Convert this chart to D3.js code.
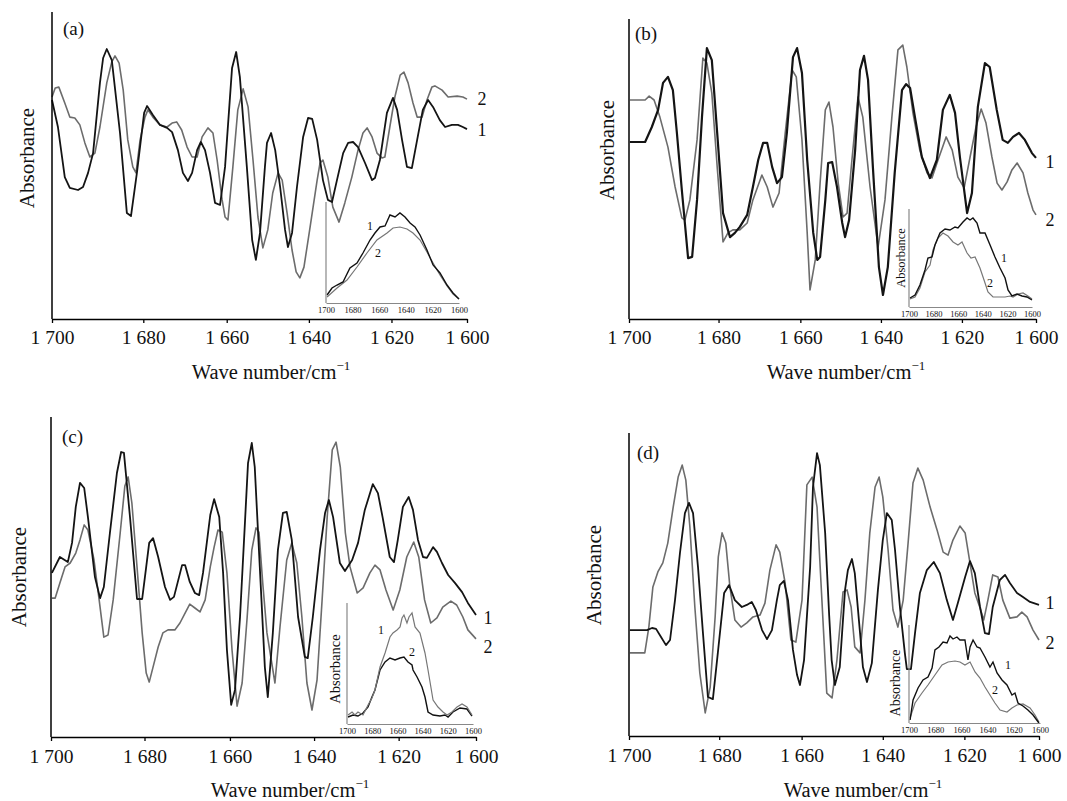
<!DOCTYPE html>
<html><head><meta charset="utf-8">
<script src="https://cdn.jsdelivr.net/npm/d3@7"></script>
<style>
body{margin:0;background:#fff}
svg{display:block}
text{font-family:"Liberation Serif","Times New Roman",serif;fill:#111}
</style>
</head><body>
<svg id="chart" width="1067" height="801"></svg>
<script>
// ---------- data ----------
const xTickValues = [1700,1680,1660,1640,1620,1600];
const xTickLabels = ["1 700","1 680","1 660","1 640","1 620","1 600"];
const insetTickLabels = ["1700","1680","1660","1640","1620","1600"];
const seriesNames = ["1","2"];
const panelLetters = ["(a)","(b)","(c)","(d)"];
const yLabel = "Absorbance";
const xLabel = "Wave number/cm";

// panel (a)
const a1 = [[1700,73],[1698.7,64],[1697.2,47.3],[1696.1,43.7],[1694.3,43],[1693.2,44],[1692.1,48.7],[1691,55.3],[1689.5,78.7],[1688.8,87],[1688,90],[1686.9,86.3],[1685.1,62],[1683.6,35.3],[1682.7,34.3],[1681.4,48.7],[1679.8,68.7],[1679.1,71],[1677.7,68],[1676,64.7],[1674.3,63.7],[1673.1,62.3],[1671.7,56.3],[1670.5,48.7],[1669.3,46],[1668.3,48.7],[1667.1,56.3],[1666.2,59],[1665.2,56.3],[1664,48.7],[1662.8,38.7],[1661.6,38],[1660.4,50.7],[1658.7,83.7],[1657.7,89],[1656.8,80.7],[1655.1,50.7],[1653.8,26.3],[1652.9,19.7],[1651.9,28.7],[1650.7,50.7],[1650.2,58.7],[1649.2,62],[1648.2,56.3],[1647,44],[1645.8,29.7],[1645.1,24],[1644.1,28.7],[1642.9,44],[1641.4,60.7],[1640.2,67],[1639.2,66.7],[1638,59.7],[1636.6,46.3],[1635.4,39.7],[1634.4,39],[1633.2,46.3],[1631.7,55.3],[1630.5,58.7],[1629.3,59],[1628.1,57.3],[1626.4,52],[1624.7,46.3],[1624,47],[1622.8,53],[1621.1,68.7],[1619.6,73.7],[1618.5,69.7],[1617.2,59.7],[1615.9,50.7],[1614.6,50.3],[1613.2,59.7],[1611.7,69.7],[1610.3,73],[1609,70.7],[1607.2,66.3],[1605.8,64],[1604,64.7],[1602.4,64.7],[1601.1,64],[1600,63.3]];
const a2 = [[1700,74],[1699.3,77],[1698.5,77.3],[1697.2,72],[1696.1,67.3],[1695,67],[1693.9,64.7],[1692.8,58.7],[1691.7,54],[1690.6,55.3],[1689.5,64],[1688,78.7],[1686.9,85.7],[1686.2,87.7],[1685.3,85.3],[1684.4,76.3],[1683.4,59.7],[1682.3,50.7],[1681.6,48.7],[1680.7,59.7],[1679.6,67.3],[1678.9,69.7],[1677.7,67.3],[1676,64.7],[1674.3,64],[1673.1,65.3],[1672,65.7],[1670.8,63],[1669.5,57.3],[1668.3,54],[1667.1,54],[1665.9,60.7],[1664.5,63.7],[1663.3,62],[1662.3,53],[1661.1,39.7],[1660.4,34],[1659.7,33],[1658.5,50.7],[1657.3,69.7],[1656,76.7],[1654.8,70.7],[1653.6,53],[1652.4,34],[1651.2,23.7],[1650,29.7],[1648.8,42],[1647.5,48.7],[1646.5,46.3],[1645.3,35.3],[1644.1,23],[1643.1,15.7],[1642.2,13.7],[1641.2,17.3],[1639.7,30.7],[1638,46.3],[1637.3,52],[1636.6,53],[1635.4,47.3],[1634.2,37.3],[1632.7,32.3],[1631.3,38.7],[1629.6,47.3],[1628.1,56.3],[1626.9,62],[1625.9,63.7],[1624.7,60.7],[1623.5,55.3],[1622.3,53.7],[1621.6,54],[1620.4,64],[1619.1,74],[1617.7,81.3],[1616.7,82.3],[1615.6,78.7],[1614.3,72],[1613.2,67.3],[1611.9,67.3],[1610.6,73],[1609.3,77.3],[1608.5,77.7],[1606.6,76.3],[1605,74],[1602.6,74.3],[1601.1,74],[1600,73.3]];
const aIn1 = [[1699.2,8],[1695.5,15],[1691.7,18],[1687.2,21],[1682,35],[1676.7,40],[1672.2,50],[1666.9,63],[1663.2,70],[1659.4,76],[1655.6,77],[1651.9,88],[1648.1,86],[1644.4,90],[1640.6,86],[1636.8,80],[1633.1,76],[1629.3,68],[1624.1,53],[1619.5,38],[1614.3,30],[1609,18],[1604.5,10],[1600,4]];
const aIn2 = [[1699.2,6],[1691.7,15],[1684.2,23],[1676.7,36],[1669.2,50],[1661.7,63],[1654.1,70],[1649.6,75],[1644.4,76],[1639.1,74],[1634.6,70],[1629.3,63],[1624.1,51],[1619.5,40],[1614.3,28],[1609,17],[1604.5,9],[1600,4]];

// panel (b)
const b1 = [[1699.8,59],[1696.4,59],[1694.9,64],[1693.5,69.7],[1692.4,78.7],[1691.3,80.7],[1690.2,76.3],[1689.3,62],[1688.2,43],[1686.8,20.3],[1685.9,20.7],[1684.8,39.7],[1683.7,67.3],[1682.6,90.3],[1681.5,86.3],[1680.3,62],[1678.9,35.3],[1677.2,27.3],[1676,28.7],[1674.8,30.7],[1673,34.7],[1671.6,44],[1670.3,53],[1669.1,58.7],[1668.1,58.7],[1666.9,50.7],[1665.7,45.3],[1664.5,47.3],[1663.3,62],[1661.8,87.3],[1660.8,90.3],[1659.6,82],[1658.3,53],[1656.8,28.7],[1655.8,19.7],[1655.1,20.7],[1653.8,39.7],[1653.1,52],[1652.1,52.3],[1650.9,44],[1649.6,32],[1648.9,27.3],[1647.9,33],[1646.4,56.3],[1645.2,83],[1644.2,87.7],[1643.2,79.7],[1642,50.7],[1640.5,17.3],[1639.5,8],[1638.3,17.3],[1636.6,48.7],[1634.8,76.3],[1633.8,78.3],[1632.8,77],[1631.6,67.3],[1629.9,54],[1627.9,47],[1626.2,53],[1624.7,69.7],[1623,74.7],[1621.7,68.7],[1620.5,54],[1618.6,35.3],[1617.3,42],[1615.7,70.7],[1613.8,85.3],[1612.5,84],[1610.6,69.7],[1609,59.7],[1607.6,58.7],[1606.2,60.7],[1604.6,62],[1603,59.7],[1601.1,55.3],[1600,53.7]];
const b2 = [[1699.8,73],[1696.4,73],[1695.5,74.3],[1694.4,73],[1693.1,67.3],[1691.3,57.3],[1689.7,44],[1688.2,33.7],[1687.5,33],[1686.4,39.7],[1684.8,59.7],[1683.5,87],[1682.6,85.3],[1681.5,75.3],[1680.3,50.7],[1678.9,25.7],[1677.7,28.7],[1676.5,29.7],[1674.8,29.7],[1673,32],[1671.6,39.7],[1669.4,48],[1668.1,44],[1666.7,37.3],[1665.2,42],[1663.7,62],[1662,83],[1661,80.7],[1659.6,59.7],[1658.3,28.7],[1657.6,9.7],[1656.3,19.7],[1655.1,45.3],[1653.8,69.7],[1652.9,72.3],[1651.9,64],[1650.6,45.3],[1649.4,34],[1648.4,35.3],[1647.2,53],[1645.7,74],[1644.5,67.3],[1642.7,44],[1640.7,24],[1639,39.7],[1637.3,67.3],[1635.8,89.7],[1634.6,91.3],[1633.6,84],[1632.1,68.7],[1630.4,56.3],[1628.6,48.7],[1627.4,47],[1625.9,53],[1623.9,60.7],[1622.4,56.3],[1621,47.3],[1619.4,43.7],[1617.8,54],[1616.2,64],[1614.8,70],[1613.5,65.3],[1611.9,54],[1610.5,45.3],[1609.2,43],[1607.8,45.7],[1606.5,49.7],[1605.1,52],[1603.5,48.7],[1602.2,42],[1600.8,36.3],[1600,34.7]];
const bIn1 = [[1699.2,9],[1695.1,12],[1691.1,22],[1687,37],[1684.6,49],[1681.3,50],[1678.9,62],[1674.8,74],[1670.7,78],[1666.7,77],[1662.6,80],[1660.2,79],[1656.1,85],[1652.8,89],[1650.4,87],[1648,89],[1644.7,84],[1642.3,74],[1638.2,74],[1634.1,62],[1630.1,50],[1626,39],[1621.9,29],[1619.5,17],[1616.3,11],[1612.2,13],[1608.1,11],[1604.1,10],[1600,7]];
const bIn2 = [[1699.2,8],[1695.1,10],[1691.1,19],[1687,35],[1682.9,42],[1680.5,57],[1676.4,69],[1672.4,74],[1668.3,71],[1664.2,65],[1660.2,62],[1656.9,65],[1652.8,54],[1649.6,49],[1646.3,50],[1642.3,39],[1639,27],[1635.8,15],[1631.7,10],[1626,10],[1621.9,10],[1617.9,11],[1615.4,10],[1611.4,13],[1607.3,14],[1603.3,11],[1600,8]];

// panel (c)
const c1 = [[1699.8,54.7],[1698.1,60],[1696.4,58.3],[1695.5,64.7],[1694.7,76.7],[1693.8,84.7],[1692.9,83],[1692.1,73.3],[1690.6,53.3],[1689.5,46.3],[1688.7,50],[1687.4,68],[1685.9,88],[1685,95],[1684.4,94.7],[1683.1,73.3],[1681.6,46],[1680.5,46],[1679.6,56.7],[1678.9,64.7],[1678,66.3],[1676.8,60],[1675.2,50],[1674,45.7],[1673.1,46.7],[1671.2,57.3],[1670.5,57.3],[1669.4,51.7],[1668.2,48],[1667.2,47.3],[1666.3,54.7],[1664.6,74],[1663.7,79.3],[1662.5,73.3],[1661.6,54.7],[1660.7,29],[1659.7,10.7],[1658.8,15.7],[1657.6,40],[1656.4,72.3],[1655.7,91.3],[1654.8,98],[1654.1,90],[1652.9,56.7],[1651.7,23.3],[1651,13.3],[1649.8,34.7],[1648.6,62.3],[1647.4,74.7],[1646.5,75],[1645.3,65.7],[1643.8,40],[1642.2,26.7],[1641.5,26.3],[1640.3,40],[1638.6,62.3],[1637.4,74.7],[1636.5,79],[1635.5,73.3],[1633.9,58],[1632.7,55.3],[1631,59],[1629.6,64.7],[1628,75.7],[1626.1,84.3],[1624.9,81.3],[1623.8,73.3],[1622.1,60],[1621.1,58.3],[1620.2,65.7],[1618.9,76.7],[1617.4,80],[1616.3,75.7],[1615,65.7],[1613.7,60],[1612.7,59.7],[1611.1,63.3],[1610.1,61.7],[1608.8,58],[1607.2,54],[1605.4,51.3],[1603.6,48.3],[1602.1,44.7],[1600,40.7]];
const c2 = [[1699.8,46.3],[1699.1,46.3],[1698.1,51.3],[1697,56.7],[1695.9,58],[1694.7,61.3],[1693.8,65.7],[1692.9,70.7],[1692.1,69],[1690.8,59],[1689.7,45.7],[1688.7,33.3],[1687.8,34],[1686.7,45.7],[1685.2,68],[1684.2,83.7],[1683.5,86.7],[1682.7,78],[1681.6,56.7],[1680.5,34.7],[1679.6,21.3],[1678.9,18.3],[1678,23.3],[1676.8,30],[1675.7,34.7],[1674.5,35.7],[1672.9,35.7],[1671.7,38],[1670.5,41.3],[1669.4,44.3],[1668.2,43],[1667,41.7],[1665.8,45.7],[1664.6,56.7],[1663.7,63.3],[1662.8,69],[1661.8,68.3],[1660.7,54.7],[1659.5,29],[1658.3,10.3],[1657.1,18],[1655.9,40],[1654.8,62.3],[1653.8,69.7],[1653.1,68.3],[1652.2,51.3],[1651.2,34.7],[1649.3,18],[1648.1,36.7],[1646.5,59],[1645.3,64.7],[1644.1,58],[1642.9,40],[1641.7,18],[1640.5,9],[1639.3,19],[1638.1,45.7],[1636.9,73.3],[1635.7,95.7],[1634.8,98.3],[1633.8,90],[1632.6,68],[1631.5,56.7],[1629.8,48],[1628.4,49.7],[1626.8,54.7],[1625.6,57.3],[1624.4,55.7],[1623,49],[1621.3,42.3],[1619.7,49],[1617.9,60],[1616.1,65],[1614.8,60],[1613.3,45.7],[1611.7,38],[1610.1,39.7],[1608.6,43.3],[1606.5,45.3],[1605,44],[1603.4,40],[1602.1,35.7],[1600,32.7]];
const cIn1 = [[1699.2,9],[1696,12],[1693.7,9],[1691.3,12],[1687.3,9],[1683.3,19],[1680.2,26],[1677.8,34],[1673.8,57],[1669.8,71],[1665.9,87],[1663.5,91],[1660.3,94],[1657.9,97],[1656.3,106],[1654.8,109],[1652.4,101],[1650.8,107],[1648.4,111],[1646,97],[1642.1,91],[1638.1,71],[1635.7,54],[1631.7,24],[1627.8,17],[1623.8,12],[1620.6,9],[1616.7,12],[1612.7,17],[1608.7,20],[1604.8,17],[1600.8,9]];
const cIn2 = [[1699.2,7],[1695.2,9],[1691.3,8],[1687.3,11],[1683.3,17],[1680.2,27],[1677.8,34],[1673.8,54],[1669.8,62],[1665.9,66],[1661.9,64],[1657.9,66],[1654.8,67],[1651.6,62],[1648.4,59],[1647.6,54],[1644.4,47],[1640.5,37],[1638.1,27],[1635.7,12],[1631.7,9],[1626.2,8],[1622.2,9],[1619.8,7],[1615.9,12],[1610.3,16],[1604.8,15],[1600.8,8]];

// panel (d)
const d1 = [[1699.8,35.3],[1696,35.3],[1694.9,36],[1694,35.7],[1692.9,33],[1691.8,30.3],[1690.9,32],[1689.8,45.3],[1688.7,61],[1687.6,74.3],[1686.7,77.7],[1685.8,74.3],[1684.7,56.3],[1683.6,34.3],[1682.5,13],[1681.4,12.3],[1680.3,27.7],[1678.8,47.7],[1677.6,50.3],[1676.2,45.3],[1674.5,43],[1673.3,43.7],[1672.1,44.7],[1671.1,42],[1669.6,35.3],[1668.4,32.3],[1667.2,35.3],[1666,45.3],[1665.3,50.3],[1664.3,51.7],[1663.3,45.3],[1662.1,28.7],[1661.1,20.3],[1660.4,17],[1659.4,25.3],[1657.9,56.3],[1657.2,83],[1656.2,94.3],[1655.5,90.3],[1654.2,67.7],[1653.2,40],[1652.6,25.3],[1651.8,17],[1650.6,23],[1649.3,48.7],[1648.6,55.3],[1647.6,59],[1646.9,54.3],[1645.6,34.3],[1644.9,23],[1643.9,18],[1642.7,24.3],[1641.2,48.7],[1640,65.3],[1639,74.3],[1637.8,72],[1637,62],[1635.8,43],[1634.6,27.7],[1634.1,22.3],[1633.1,22.3],[1632.1,34.3],[1630.9,47.7],[1629.2,55.3],[1627.5,58],[1626,54.3],[1624.3,45.3],[1622.8,38.7],[1621.6,44.3],[1619.8,53],[1618.5,58.3],[1617.2,54.3],[1615.8,43],[1614.5,34.3],[1613.4,34],[1612.4,43],[1610.5,52],[1609.1,53.7],[1607.8,51],[1605.9,47.7],[1604.3,46.3],[1602.4,44.7],[1600,43.7]];
const d2 = [[1699.8,27.7],[1696.5,27.7],[1695.6,36.3],[1694.7,49.7],[1693.6,54.7],[1692.5,57.7],[1691.4,64.3],[1690.2,76.3],[1689.1,86.3],[1688.2,90.3],[1687.4,85.3],[1686.5,69.7],[1685.4,43],[1684.3,21],[1683.1,7.7],[1682,16.3],[1680.9,39.7],[1680.2,59.7],[1679.3,67.7],[1678.4,64.3],[1677.4,49.7],[1676.2,38.7],[1674.7,36.3],[1673.3,37.7],[1671.8,39.7],[1670.1,40.3],[1668.9,44.3],[1667.7,55.3],[1666.2,63.7],[1665.3,61.3],[1664,51],[1662.6,32],[1661.4,31.3],[1659.9,45.3],[1658.7,83.7],[1657.4,86.3],[1656.2,76.3],[1655,45.3],[1653.8,14.3],[1652.5,12.7],[1651.3,25.3],[1649.8,48],[1648.8,48.7],[1647.8,43],[1646.9,29.7],[1645.6,27.7],[1644.4,45.3],[1643.2,67.7],[1641.9,83],[1640.9,86.3],[1640,79.7],[1638.7,62],[1637.5,42],[1636.3,36.3],[1635,45.3],[1633.8,64.3],[1632.6,84.3],[1631.4,89.3],[1630.1,85.3],[1628.4,76.3],[1626.7,68.7],[1625.2,61.3],[1624,60.3],[1622.8,65.3],[1621.1,70],[1619.8,67.7],[1618.5,57.7],[1617.2,47.7],[1615.8,42.7],[1614.8,38.7],[1613.7,45.3],[1612.4,53.7],[1611,53],[1609.7,45.3],[1607.8,39.3],[1605.9,39.7],[1604.6,41.3],[1603.2,39.7],[1601.6,35.3],[1600,32]];
const dIn1 = [[1699.2,3],[1696.9,23],[1693.1,35],[1689.3,43],[1685.5,46],[1682.4,55],[1680.2,73],[1677.1,76],[1674,81],[1671,80],[1668.7,87],[1666.4,84],[1663.4,86],[1661.1,83],[1657.3,83],[1655,63],[1653.4,76],[1651.1,83],[1648.1,76],[1645.8,75],[1642,66],[1638.2,56],[1635.9,61],[1632.8,50],[1629,43],[1625.2,38],[1621.4,28],[1619.1,30],[1616.8,20],[1613,17],[1609.2,13],[1605.3,8],[1600.8,0]];
const dIn2 = [[1699.2,5],[1695.4,20],[1690.1,30],[1685.5,38],[1680.2,48],[1674.8,58],[1670.2,61],[1664.9,62],[1661.1,61],[1657.3,58],[1653.4,61],[1649.6,51],[1645.8,45],[1642,36],[1638.2,28],[1634.4,20],[1630.5,13],[1625.2,11],[1621.4,15],[1617.6,18],[1613,19],[1607.6,15],[1603.8,8],[1600.8,1]];

// ---------- layout ----------
const tickFrac = [0,0.220,0.421,0.619,0.818,1];
const panels = [
  {letter:0, x0:52, x1:467, axisY:319, topY:12, s1:a1, s2:a2, w1:1.8, labX:482, lab1Y:130, lab2Y:99,
   yLabX:27, yLabY:158, letterX:63, letterY:35, titleX:271, titleY:379, tickPad:7,
   inset:{x0:326,x1:459,bottom:303,top:202,s1:aIn1,s2:aIn2,c1:"#111",c2:"#777",l1:[370,226],l2:[378,253],yl:null}},
  {letter:1, x0:629, x1:1036, axisY:319, topY:19, s1:b1, s2:b2, w1:2.2, labX:1050, lab1Y:162, lab2Y:220,
   yLabX:607, yLabY:150, letterX:635, letterY:40, titleX:846, titleY:379, tickPad:7,
   inset:{x0:909,x1:1032,bottom:307,top:209,s1:bIn1,s2:bIn2,c1:"#111",c2:"#777",l1:[1004,258],l2:[990,283],yl:[901,258,12.5]}},
  {letter:2, x0:51, x1:476, axisY:737, topY:417, s1:c1, s2:c2, w1:1.8, labX:488, lab1Y:618, lab2Y:647,
   yLabX:19, yLabY:577, letterX:62, letterY:443, titleX:290, titleY:797, tickPad:8,
   inset:{x0:347,x1:473,bottom:724,top:603,s1:cIn1,s2:cIn2,c1:"#777",c2:"#111",l1:[381,630],l2:[412,652],yl:[335,669,14.5]}},
  {letter:3, x0:629, x1:1039, axisY:736, topY:433, s1:d1, s2:d2, w1:1.8, labX:1050, lab1Y:603, lab2Y:643,
   yLabX:594, yLabY:575, letterX:637, letterY:459, titleX:863, titleY:797, tickPad:8,
   inset:{x0:909,x1:1040,bottom:723,top:625,s1:dIn1,s2:dIn2,c1:"#111",c2:"#777",l1:[1008,665],l2:[995,690],yl:[895,683,14]}}
];

const svg = d3.select("#chart");
const black = "#141414", grey = "#6c6c6c";

panels.forEach(p => {
  const g = svg.append("g");
  const W = p.x1 - p.x0;
  const x = d3.scaleLinear().domain(xTickValues).range(tickFrac.map(f => p.x0 + f*W));
  const y = d3.scaleLinear().domain([0,100]).range([p.axisY, p.axisY-300]);
  const line = d3.line().x(d=>x(d[0])).y(d=>y(d[1]));

  // series
  g.append("path").datum(p.s2).attr("d",line).attr("fill","none").attr("stroke",grey).attr("stroke-width",1.6).attr("stroke-linejoin","round");
  g.append("path").datum(p.s1).attr("d",line).attr("fill","none").attr("stroke",black).attr("stroke-width",p.w1).attr("stroke-linejoin","round");

  // axes
  g.append("line").attr("x1",p.x0).attr("x2",p.x0).attr("y1",p.topY).attr("y2",p.axisY).attr("stroke","#000").attr("stroke-width",1.5);
  const ax = g.append("g").attr("transform",`translate(0,${p.axisY})`)
    .call(d3.axisBottom(x).tickValues(xTickValues).tickFormat((d,i)=>xTickLabels[i]).tickSize(4).tickSizeOuter(0).tickPadding(p.tickPad));
  ax.select(".domain").attr("stroke","#000").attr("stroke-width",1.5);
  ax.selectAll(".tick line").attr("stroke","#000").attr("stroke-width",1.3);
  ax.selectAll(".tick text").attr("font-family","Liberation Serif, serif").attr("font-size",19.5).attr("fill","#111");

  // series labels
  g.append("text").attr("x",p.labX).attr("y",p.lab1Y).attr("dy","0.35em").attr("text-anchor","middle").attr("font-size",18).text(seriesNames[0]);
  g.append("text").attr("x",p.labX).attr("y",p.lab2Y).attr("dy","0.35em").attr("text-anchor","middle").attr("font-size",18).text(seriesNames[1]);

  // y label
  g.append("text").attr("transform",`translate(${p.yLabX},${p.yLabY}) rotate(-90)`).attr("dy","0.35em")
    .attr("text-anchor","middle").attr("font-size",21).text(yLabel);
  // panel letter
  g.append("text").attr("x",p.letterX).attr("y",p.letterY).attr("font-size",19).text(panelLetters[p.letter]);
  // x title
  const t = g.append("text").attr("x",p.titleX).attr("y",p.titleY).attr("text-anchor","middle").attr("font-size",20.5);
  t.append("tspan").text(xLabel);
  t.append("tspan").attr("font-size",13).attr("dy",-9).text("\u22121");

  // inset
  const ins = p.inset;
  const xi = d3.scaleLinear().domain([1700,1600]).range([ins.x0, ins.x1]);
  const yi = d3.scaleLinear().domain([0,100]).range([ins.bottom, ins.bottom-100]);
  const li = d3.line().x(d=>xi(d[0])).y(d=>yi(d[1]));
  const gi = g.append("g");
  gi.append("path").datum(ins.s2).attr("d",li).attr("fill","none").attr("stroke",ins.c2).attr("stroke-width",ins.c2==="#111"?1.4:1.2);
  gi.append("path").datum(ins.s1).attr("d",li).attr("fill","none").attr("stroke",ins.c1).attr("stroke-width",ins.c1==="#111"?1.4:1.2);
  gi.append("line").attr("x1",ins.x0).attr("x2",ins.x0).attr("y1",ins.top).attr("y2",ins.bottom).attr("stroke","#888").attr("stroke-width",1.2);
  const axi = gi.append("g").attr("transform",`translate(0,${ins.bottom})`)
    .call(d3.axisBottom(xi).tickValues(xTickValues).tickFormat((d,i)=>insetTickLabels[i]).tickSize(0).tickSizeOuter(0).tickPadding(4));
  axi.select(".domain").attr("stroke","#888").attr("stroke-width",1.2);
  axi.selectAll(".tick text").attr("font-family","Liberation Serif, serif").attr("font-size",8.5).attr("fill","#333");
  gi.append("text").attr("x",ins.l1[0]).attr("y",ins.l1[1]).attr("dy","0.35em").attr("text-anchor","middle").attr("font-size",12).text(seriesNames[0]);
  gi.append("text").attr("x",ins.l2[0]).attr("y",ins.l2[1]).attr("dy","0.35em").attr("text-anchor","middle").attr("font-size",12).text(seriesNames[1]);
  if (ins.yl) {
    gi.append("text").attr("transform",`translate(${ins.yl[0]},${ins.yl[1]}) rotate(-90)`).attr("dy","0.35em")
      .attr("text-anchor","middle").attr("font-size",ins.yl[2]).text(yLabel);
  }
});
</script>
</body></html>
